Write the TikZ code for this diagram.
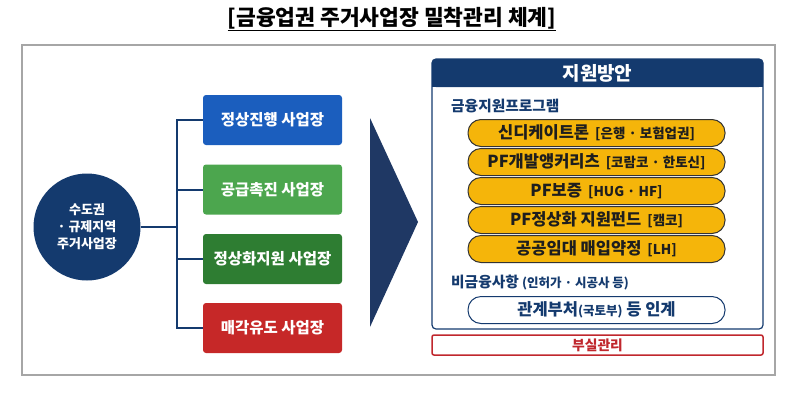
\documentclass[tikz,border=0pt]{standalone}
\usepackage{fontspec}
\setmainfont{Noto Sans CJK KR}
\definecolor{navy}{HTML}{143A6E}
\definecolor{navytri}{HTML}{1F3864}
\definecolor{cblue}{HTML}{1B5EBE}
\definecolor{cgreen}{HTML}{4CA64E}
\definecolor{cdgreen}{HTML}{2E7D32}
\definecolor{cred}{HTML}{C62828}
\definecolor{pillfill}{HTML}{F5B50A}
\definecolor{pilltext}{HTML}{1E1E1E}
\definecolor{framegray}{HTML}{A6A6A6}
\definecolor{redline}{HTML}{C0272D}
\newcommand{\fsz}[1]{\fontsize{#1}{#1}\selectfont}
\newcommand{\subf}{\bfseries\fsz{13.5}}
\tikzset{
  catbox/.style={rectangle, rounded corners=3pt, minimum width=139pt, minimum height=50pt, text=white, font=\bfseries\fsz{15.5}, inner sep=0pt},
  conn/.style={draw=navy, line width=2pt},
  pill/.style={rectangle, rounded corners=13pt, minimum width=257pt, minimum height=27pt, fill=pillfill, draw=black!80, line width=1pt, text=pilltext, font=\bfseries\fsz{16.5}, inner sep=0pt},
  lbl/.style={anchor=west, text=navy, font=\bfseries\fsz{14.7}, inner sep=0pt},
}
\begin{document}
\begin{tikzpicture}[x=1pt,y=-1pt]
\useasboundingbox (0,0) rectangle (800,400);
% title
\node[font=\bfseries\fontsize{21.5}{22}\selectfont, inner sep=0pt] (title) at (392,19) {\underline{[금융업권 주거사업장 밀착관리 체계]}};
% frame
\node[draw=framegray, line width=1.2pt, minimum width=753pt, minimum height=330pt, inner sep=0pt] (frame) at (398.5,210) {};
% hub circle
\node[circle, fill=navy, minimum size=107pt, inner sep=0pt, text=white, align=center, font=\bfseries\fontsize{13}{17}\selectfont] (hub) at (87,227) {수도권\\· 규제지역\\주거사업장};
% category boxes
\node[catbox, fill=cblue]   (b1) at (272.5,120) {정상진행 사업장};
\node[catbox, fill=cgreen]  (b2) at (272.5,189.5) {공급촉진 사업장};
\node[catbox, fill=cdgreen] (b3) at (272.5,259) {정상화지원 사업장};
\node[catbox, fill=cred]    (b4) at (272.5,328) {매각유도 사업장};
% connectors
\coordinate (j) at (177,227);
\draw[conn] (hub.east) -- (j);
\draw[conn] (j) |- (b1.west);
\draw[conn] (j) |- (b2.west);
\draw[conn] (j) |- (b3.west);
\draw[conn] (j) |- (b4.west);
% big chevron
\fill[navytri] (370,118) -- (418,222) -- (370,327) -- cycle;
% right panel header
\fill[navy, rounded corners=4pt] (432,59) rectangle (763,87);
\fill[navy] (432,75) rectangle (763,87);
\node[text=white, font=\bfseries\fsz{19}, inner sep=0pt] (hdr) at (597.5,73) {지원방안};
\node[draw=navy, line width=1.2pt, rounded corners=4pt, minimum width=331pt, minimum height=270pt, inner sep=0pt] (panel) at (597.5,194) {};
% financial programs
\node[lbl] (fin) at (451,106) {금융지원프로그램};
\node[pill] (p1) at (596.5,133) {신디케이트론 {\subf\,[은행 · 보험업권]}};
\node[pill] (p2) at (596.5,162) {PF개발앵커리츠 {\subf\,[코람코 · 한토신]}};
\node[pill] (p3) at (596.5,191) {PF보증 {\subf\,[HUG · HF]}};
\node[pill] (p4) at (596.5,220) {PF정상화 지원펀드 {\subf\,[캠코]}};
\node[pill] (p5) at (596.5,249) {공공임대 매입약정 {\subf\,[LH]}};
% non-financial
\node[lbl] (nonfin) at (451,283) {비금융사항 {\bfseries\fsz{12.5}(인허가 · 시공사 등)}};
\node[pill, fill=white, draw=navy, text=navy] (p6) at (596.5,310) {관계부처{\fsz{12.5}(국토부)} 등 인계};
% bottom red box
\node[draw=redline, line width=1.5pt, rounded corners=2pt, minimum width=331pt, minimum height=20pt, inner sep=0pt, text=redline, font=\bfseries\fsz{13.8}] (mgmt) at (597.5,345) {부실관리};
\end{tikzpicture}
\end{document}
